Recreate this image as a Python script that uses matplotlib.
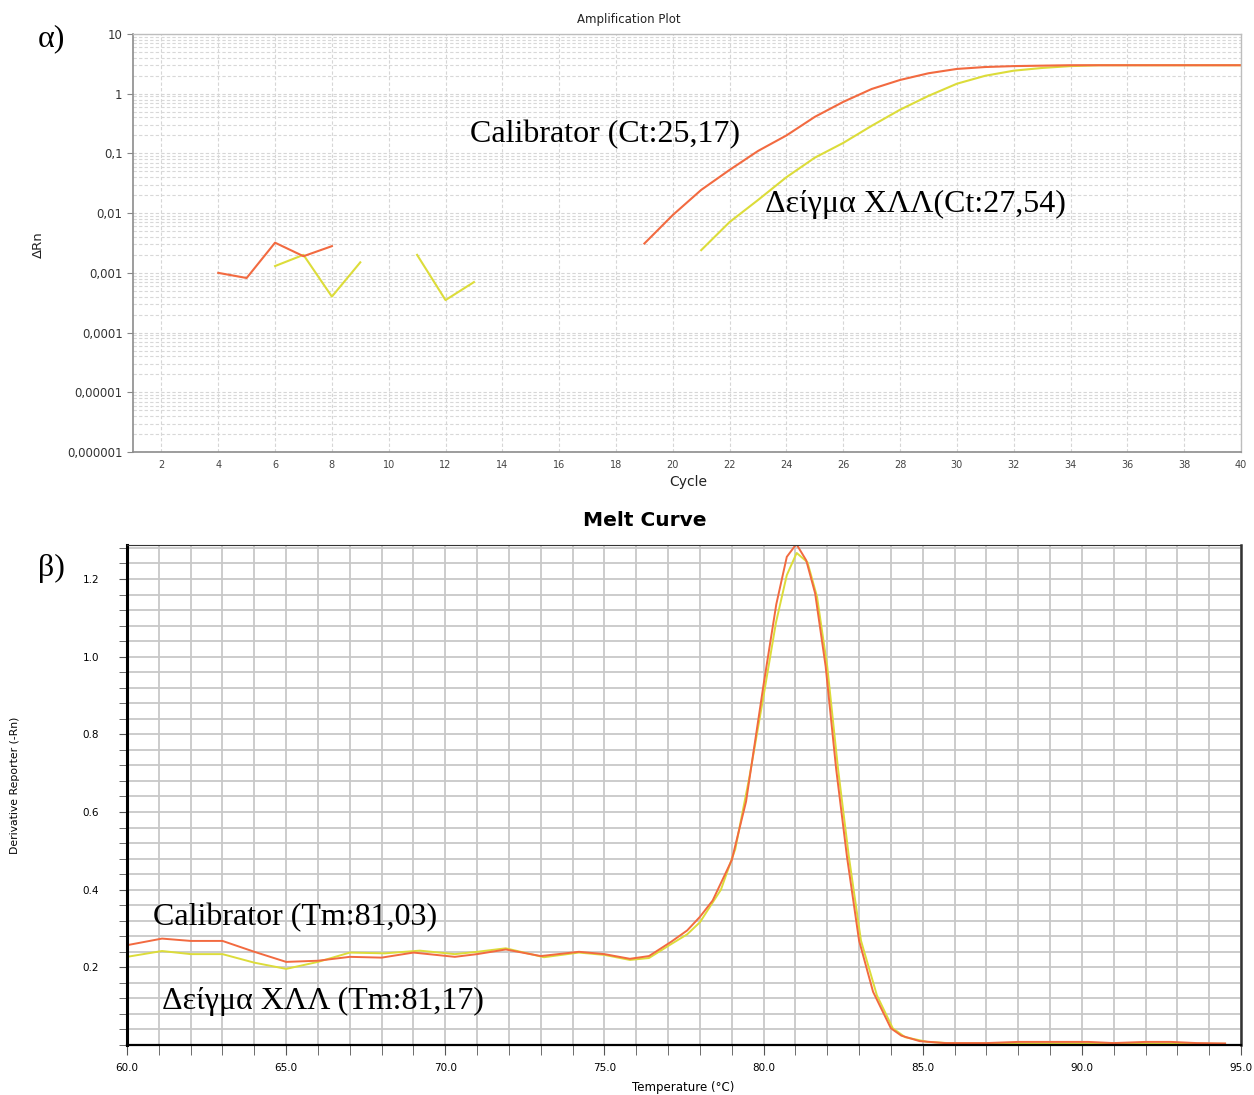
import numpy as np
import matplotlib.pyplot as plt
from matplotlib.ticker import FixedLocator, LogLocator, NullFormatter, MultipleLocator

nan = np.nan

# amplification plot (delta Rn per cycle, log scale)
cycles = np.arange(1, 41)
calibrator_drn = [nan, nan, nan, 0.0010, 0.00082, 0.0032, 0.0019, 0.0028,
                  nan, nan, nan, nan, nan, nan, nan, nan, nan, nan,
                  0.0031, 0.0093, 0.0245, 0.053, 0.11, 0.20, 0.41, 0.73, 1.2, 1.7,
                  2.2, 2.6, 2.8, 2.9, 2.95, 3.0, 3.0, 3.0, 3.0, 3.0, 3.0, 3.0]
sample_drn = [nan, nan, nan, nan, nan, 0.0013, 0.0020, 0.0004, 0.0015, nan,
              0.0020, 0.00035, 0.0007, nan, nan, nan, nan, nan, nan, nan,
              0.0024, 0.0071, 0.0166, 0.040, 0.085, 0.15, 0.29, 0.54, 0.92, 1.47,
              2.0, 2.43, 2.7, 2.9, 3.0, 3.0, 3.0, 3.0, 3.0, 3.0]
amp_yticks = [1e-6, 1e-5, 1e-4, 1e-3, 1e-2, 1e-1, 1, 10]
amp_ylabels = ['0,000001', '0,00001', '0,0001', '0,001', '0,01', '0,1', '1', '10']

# melt curve (derivative reporter vs temperature)
cal_temp = [60.0, 61.1, 62.0, 63.0, 64.0, 65.0, 66.0, 67.0, 68.0, 69.0, 70.3, 71.0,
            71.9, 73.0, 74.2, 75.0, 75.8, 76.4, 77.1, 77.6, 78.0, 78.4, 79.0, 79.45,
            80.0, 80.4, 80.73, 81.03, 81.34, 81.62, 81.95, 82.28, 82.62, 83.0, 83.44,
            84.0, 84.33, 84.9, 85.7, 87.0, 88.0, 89.0, 90.2, 91.0, 92.0, 92.8, 93.6, 94.5]
cal_deriv = [0.257, 0.274, 0.268, 0.268, 0.240, 0.214, 0.217, 0.227, 0.225, 0.238, 0.227, 0.234,
             0.246, 0.229, 0.240, 0.234, 0.222, 0.229, 0.266, 0.295, 0.330, 0.372, 0.476, 0.627,
             0.928, 1.135, 1.257, 1.290, 1.248, 1.163, 0.975, 0.711, 0.485, 0.269, 0.137,
             0.043, 0.024, 0.010, 0.005, 0.005, 0.008, 0.008, 0.008, 0.005, 0.008, 0.008, 0.005, 0.004]
smp_temp = [60.0, 61.1, 62.0, 63.0, 64.0, 65.0, 66.0, 67.0, 68.1, 69.2, 70.3, 71.0,
            71.9, 73.1, 74.2, 75.0, 75.8, 76.4, 77.1, 77.6, 78.0, 78.66, 79.11, 79.56,
            80.0, 80.39, 80.73, 81.04, 81.38, 81.68, 82.0, 82.34, 82.68, 83.06, 83.56,
            84.06, 84.45, 85.15, 86.0, 88.0, 90.0, 92.0, 94.5]
smp_deriv = [0.227, 0.242, 0.234, 0.234, 0.212, 0.196, 0.214, 0.238, 0.236, 0.243, 0.234, 0.240,
             0.249, 0.226, 0.238, 0.232, 0.219, 0.224, 0.260, 0.285, 0.316, 0.40, 0.504, 0.692,
             0.899, 1.088, 1.21, 1.267, 1.243, 1.154, 0.975, 0.711, 0.485, 0.269, 0.128,
             0.043, 0.020, 0.008, 0.004, 0.004, 0.004, 0.004, 0.003]

orange = '#f26a40'
yellow = '#dcdc3a'
serif = ['Liberation Serif', 'DejaVu Serif']

W, H = 1254, 1095
fig = plt.figure(figsize=(W / 100, H / 100), dpi=100)

def fx(px):
    return px / W

def fy(py):
    return 1 - py / H

# ---- a) amplification plot
ax1 = fig.add_axes([fx(133), fy(452), fx(1241 - 133), (452 - 34) / H])
ax1.plot(cycles, sample_drn, color=yellow, lw=1.5)
ax1.plot(cycles, calibrator_drn, color=orange, lw=1.5)
ax1.set_yscale('log')
ax1.set_xlim(1, 40)
ax1.set_ylim(1e-6, 10)
ax1.xaxis.set_major_locator(FixedLocator(np.arange(2, 41, 2)))
ax1.yaxis.set_major_locator(FixedLocator(amp_yticks))
ax1.set_yticklabels(amp_ylabels)
ax1.yaxis.set_minor_locator(LogLocator(base=10, subs=np.arange(2, 10)))
ax1.yaxis.set_minor_formatter(NullFormatter())
ax1.grid(True, which='major', axis='both', color='#d6d6d6', ls=(0, (3, 2)), lw=0.8)
ax1.grid(True, which='minor', axis='y', color='#d8d8d8', ls=(0, (3, 2)), lw=0.8)
ax1.tick_params(axis='y', which='major', labelsize=8.5, length=4, color='#888888', labelcolor='#333333')
ax1.tick_params(axis='y', which='minor', length=0)
ax1.tick_params(axis='x', labelsize=7, length=0, pad=6, labelcolor='#444444')
for side in ['left', 'bottom']:
    ax1.spines[side].set_color('#8c8c8c')
    ax1.spines[side].set_linewidth(1.2)
for side in ['top', 'right']:
    ax1.spines[side].set_color('#bdbdbd')
    ax1.spines[side].set_linewidth(1.0)

ax1.text(12.87, 0.205, 'Calibrator (Ct:25,17)', family=serif, fontsize=23, va='center')
ax1.text(23.25, 0.0138, 'Δείγμα ΧΛΛ(Ct:27,54)', family=serif, fontsize=23, va='center')

fig.text(fx(629), fy(20), 'Amplification Plot', fontsize=8.5, ha='center', va='center', color='#222222')
fig.text(fx(688), fy(482), 'Cycle', fontsize=10, ha='center', va='center', color='#222222')
fig.text(fx(38), fy(245), 'ΔRn', fontsize=9.5, rotation=90, ha='center', va='center', color='#222222')
fig.text(fx(51), fy(39), 'α)', family=serif, fontsize=23, ha='center', va='center')

# ---- b) melt curve
ax2 = fig.add_axes([fx(127), fy(1045), fx(1241 - 127), (1045 - 545) / H])
ax2.plot(smp_temp, smp_deriv, color=yellow, lw=1.4)
ax2.plot(cal_temp, cal_deriv, color=orange, lw=1.4)
ax2.set_xlim(60, 95)
ax2.set_ylim(0, 1.2875)
ax2.xaxis.set_major_locator(MultipleLocator(5))
ax2.xaxis.set_minor_locator(MultipleLocator(1))
ax2.xaxis.set_major_formatter(lambda v, p: f'{v:.1f}')
ax2.yaxis.set_major_locator(FixedLocator([0.2, 0.4, 0.6, 0.8, 1.0, 1.2]))
ax2.yaxis.set_major_formatter(lambda v, p: f'{v:.1f}')
ax2.yaxis.set_minor_locator(MultipleLocator(0.04))
ax2.grid(True, which='both', color='#c8c8c8', lw=1.3)
ax2.set_axisbelow(True)
ax2.tick_params(which='both', direction='out', color='#555555')
ax2.tick_params(axis='x', which='major', labelsize=7.5, length=7, pad=6)
ax2.tick_params(axis='x', which='minor', length=7)
ax2.tick_params(axis='y', which='major', labelsize=7.5, length=6, pad=14)
ax2.tick_params(axis='y', which='minor', length=6)
ax2.spines['left'].set_linewidth(2.2)
ax2.spines['bottom'].set_linewidth(1.6)
ax2.spines['top'].set_color('#333333')
ax2.spines['right'].set_color('#333333')
ax2.spines['right'].set_linewidth(1.8)

ax2.text(60.82, 0.327, 'Calibrator (Tm:81,03)', family=serif, fontsize=23, va='center')
ax2.text(61.1, 0.111, 'Δείγμα ΧΛΛ (Tm:81,17)', family=serif, fontsize=23, va='center')

fig.text(fx(645), fy(520), 'Melt Curve', fontsize=14.5, fontweight='bold', ha='center', va='center')
fig.text(fx(683), fy(1087), 'Temperature (°C)', fontsize=8.5, ha='center', va='center')
fig.text(fx(15), fy(785), 'Derivative Reporter (-Rn)', family=['Liberation Sans Narrow', 'DejaVu Sans'],
         fontsize=7.8, rotation=90, ha='center', va='center')
fig.text(fx(51), fy(568), 'β)', family=serif, fontsize=23, ha='center', va='center')

fig.savefig('out.png', dpi=100)
